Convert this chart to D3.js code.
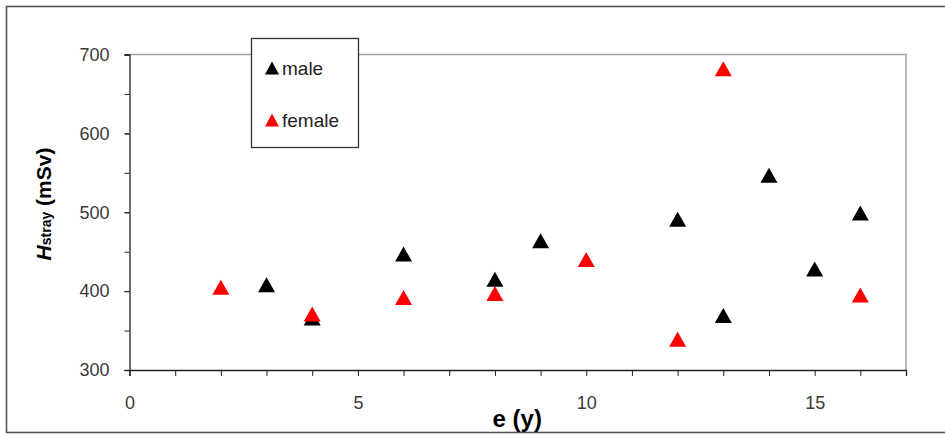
<!DOCTYPE html>
<html>
<head>
<meta charset="utf-8">
<script src="https://cdn.jsdelivr.net/npm/d3@7"></script>
<style>
  html, body { margin: 0; padding: 0; background: #fff; }
  svg { display: block; font-family: "Liberation Sans", Arial, sans-serif; }
</style>
</head>
<body>
<svg id="chart" width="945" height="436"></svg>
<script>
// Stray dose H_stray versus age e, split by sex
const maleAge = [3, 4, 6, 8, 9, 12, 13, 14, 15, 16];
const maleDose = [408, 366, 447, 415, 464, 491, 369, 547, 428, 499];
const femaleAge = [2, 4, 6, 8, 10, 12, 13, 16];
const femaleDose = [405, 371, 392, 397, 440, 339, 682, 395];
const xTicks = [0, 5, 10, 15];
const yTicks = [300, 400, 500, 600, 700];

const svg = d3.select("#chart");
const plotL = 129.5, plotR = 906, plotT = 54.5, plotB = 370;

const x = d3.scaleLinear().domain([0, 17]).range([plotL, plotR]);
const y = d3.scaleLinear().domain([300, 700]).range([plotB, plotT]);

// outer chart frame
svg.append("rect")
  .attr("x", 6.5).attr("y", 6.5).attr("width", 960).attr("height", 426)
  .attr("fill", "none").attr("stroke", "#555").attr("stroke-width", 1.6);

// plot-area frame (top and right)
svg.append("path")
  .attr("d", `M${plotL},${plotT}H${plotR}V${plotB}`)
  .attr("fill", "none").attr("stroke", "#a0a0a0").attr("stroke-width", 1.5);

// y axis: minor ticks every 50, labels every 100
const yMinor = svg.append("g").attr("transform", `translate(${plotL},0)`)
  .call(d3.axisLeft(y).tickValues(d3.range(300, 701, 50)).tickSize(5).tickFormat(""));
yMinor.select(".domain").remove();
yMinor.selectAll("line").attr("stroke", "#222");

const yAxis = svg.append("g").attr("transform", `translate(${plotL},0)`)
  .call(d3.axisLeft(y).tickValues(yTicks).tickSize(5).tickPadding(15).tickFormat(d3.format("d")));
yAxis.select(".domain").attr("stroke", "#222").attr("stroke-width", 1.3);
yAxis.selectAll("line").attr("stroke", "#222");
yAxis.selectAll("text").attr("font-size", 18).attr("fill", "#3a3a3a")
  .attr("font-family", "Liberation Sans, Arial, sans-serif");

// x axis: ticks every 1, labels every 5
const xMinor = svg.append("g").attr("transform", `translate(0,${plotB})`)
  .call(d3.axisBottom(x).tickValues(d3.range(0, 18, 1)).tickSize(6).tickFormat(""));
xMinor.select(".domain").attr("stroke", "#222").attr("stroke-width", 1.3);
xMinor.selectAll("line").attr("stroke", "#222");

const xAxis = svg.append("g").attr("transform", `translate(0,${plotB})`)
  .call(d3.axisBottom(x).tickValues(xTicks).tickSize(0).tickPadding(26).tickFormat(d3.format("d")));
xAxis.select(".domain").remove();
xAxis.selectAll("text").attr("font-size", 18).attr("fill", "#3a3a3a")
  .attr("font-family", "Liberation Sans, Arial, sans-serif");

// axis titles
svg.append("text")
  .attr("x", (plotL + plotR) / 2 - 0.5).attr("y", 427)
  .attr("text-anchor", "middle").attr("font-size", 24).attr("font-weight", "bold")
  .attr("fill", "#000").text("e (y)");

const yTitle = svg.append("text")
  .attr("transform", "translate(51,204) rotate(-90)")
  .attr("text-anchor", "middle").attr("font-weight", "bold").attr("fill", "#000");
yTitle.append("tspan").attr("font-size", 21).attr("font-style", "italic").text("H");
yTitle.append("tspan").attr("font-size", 14).text("stray");
yTitle.append("tspan").attr("font-size", 21).text(" (mSv)");

// triangle marker path centred on its bounding box
function tri(w, h) {
  return `M0,${-h / 2}L${w / 2},${h / 2}L${-w / 2},${h / 2}Z`;
}

const males = maleAge.map((a, i) => ({ a, v: maleDose[i] }));
const females = femaleAge.map((a, i) => ({ a, v: femaleDose[i] }));

svg.append("g").selectAll("path").data(males).join("path")
  .attr("d", tri(17, 15))
  .attr("transform", d => `translate(${x(d.a)},${y(d.v)})`)
  .attr("fill", "#000");

svg.append("g").selectAll("path").data(females).join("path")
  .attr("d", tri(17, 15))
  .attr("transform", d => `translate(${x(d.a)},${y(d.v)})`)
  .attr("fill", "#ff0000");

// legend
const lg = svg.append("g");
lg.append("rect").attr("x", 251.5).attr("y", 38.5).attr("width", 107).attr("height", 109)
  .attr("fill", "#fff").attr("stroke", "#333").attr("stroke-width", 1.3);
const items = [{ label: "male", color: "#000", cy: 68 }, { label: "female", color: "#ff0000", cy: 120 }];
items.forEach(it => {
  lg.append("path").attr("d", tri(14, 13)).attr("transform", `translate(272,${it.cy})`).attr("fill", it.color);
  lg.append("text").attr("x", 282).attr("y", it.cy + 7).attr("font-size", 19)
    .attr("fill", "#222").text(it.label);
});
</script>
</body>
</html>
